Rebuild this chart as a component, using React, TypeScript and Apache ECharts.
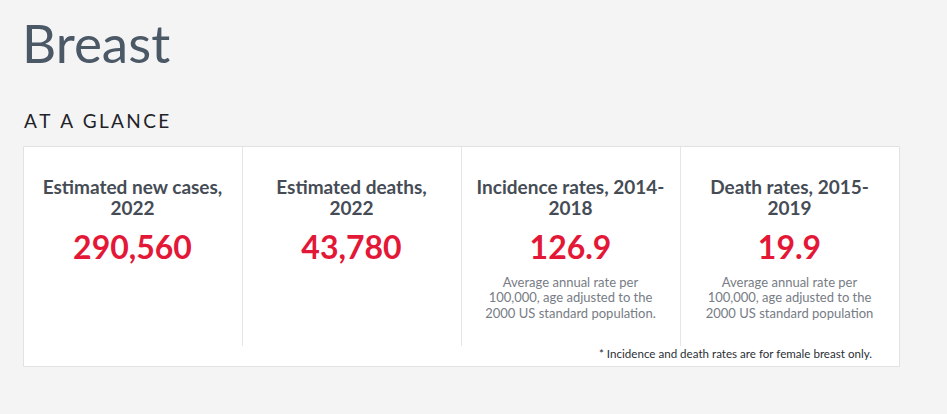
import React, { useEffect, useRef } from "react";
import * as echarts from "echarts";

const title = "Breast";
const sectionLabel = "AT A GLANCE";
const headings = ["Estimated new cases,\n2022", "Estimated deaths,\n2022", "Incidence rates, 2014-\n2018", "Death rates, 2015-\n2019"];
const values = ["290,560", "43,780", "126.9", "19.9"];
const descriptions = [
  "",
  "",
  "Average annual rate per\n100,000, age adjusted to the\n2000 US standard population.",
  "Average annual rate per\n100,000, age adjusted to the\n2000 US standard population",
];
const footnote = "* Incidence and death rates are for female breast only.";

const FONT = "Lato, 'Noto Sans', sans-serif";

function spacedChars(text: string, x0: number, y: number, font: string, spacing: number, style: any) {
  const c = document.createElement("canvas").getContext("2d")!;
  c.font = font;
  const out: any[] = [];
  let x = x0;
  for (const ch of text) {
    out.push({ type: "text", x, y, style: { ...style, text: ch, textAlign: "left", textVerticalAlign: "middle" } });
    x += c.measureText(ch).width + spacing;
  }
  return out;
}

export default function App() {
  const ref = useRef<HTMLDivElement>(null);
  useEffect(() => {
    const chart = echarts.init(ref.current!, null, { renderer: "svg" });
    const cardX = 23, cardY = 146, cardW = 876, cardH = 220;
    const colW = cardW / 4;
    const elements: any[] = [];
    elements.push({
      type: "text", x: 22, y: 42,
      style: { text: title, font: `400 53px ${FONT}`, fill: "#4b5866", textAlign: "left", textVerticalAlign: "middle" },
    });
    elements.push(...spacedChars(sectionLabel, 24, 120, `400 19px Lato`, 2.4, { font: `400 19px ${FONT}`, fill: "#1f2328" }));
    elements.push({
      type: "rect", shape: { x: cardX + 0.5, y: cardY + 0.5, width: cardW, height: cardH },
      style: { fill: "#ffffff", stroke: "#e2e2e2", lineWidth: 1 },
    });
    for (let i = 1; i < 4; i++) {
      const x = Math.round(cardX + colW * i) + 0.5;
      elements.push({ type: "line", shape: { x1: x, y1: cardY + 1, x2: x, y2: 346 }, style: { stroke: "#e6e6e6", lineWidth: 1 } });
    }
    headings.forEach((h, i) => {
      const cx = cardX + colW * i + colW / 2;
      elements.push({
        type: "text", x: cx, y: 196.5,
        style: { text: h, font: `700 19px ${FONT}`, fill: "#454c55", textAlign: "center", textVerticalAlign: "middle", lineHeight: 21 },
      });
      elements.push({
        type: "text", x: cx, y: 246,
        style: { text: values[i], font: `700 32px ${FONT}`, fill: "#e31837", textAlign: "center", textVerticalAlign: "middle" },
      });
      if (descriptions[i]) {
        elements.push({
          type: "text", x: cx, y: 297,
          style: { text: descriptions[i], font: `400 13px ${FONT}`, fill: "#777c85", textAlign: "center", textVerticalAlign: "middle", lineHeight: 15.5 },
        });
      }
    });
    elements.push({
      type: "text", x: 872, y: 353,
      style: { text: footnote, font: `400 11.6px ${FONT}`, fill: "#2b2f36", textAlign: "right", textVerticalAlign: "middle" },
    });
    chart.setOption({ animation: false, backgroundColor: "#f4f4f4", graphic: { elements } });
    return () => chart.dispose();
  }, []);
  return <div ref={ref} style={{ position: "absolute", left: 0, top: 0, width: 947, height: 414 }} />;
}
